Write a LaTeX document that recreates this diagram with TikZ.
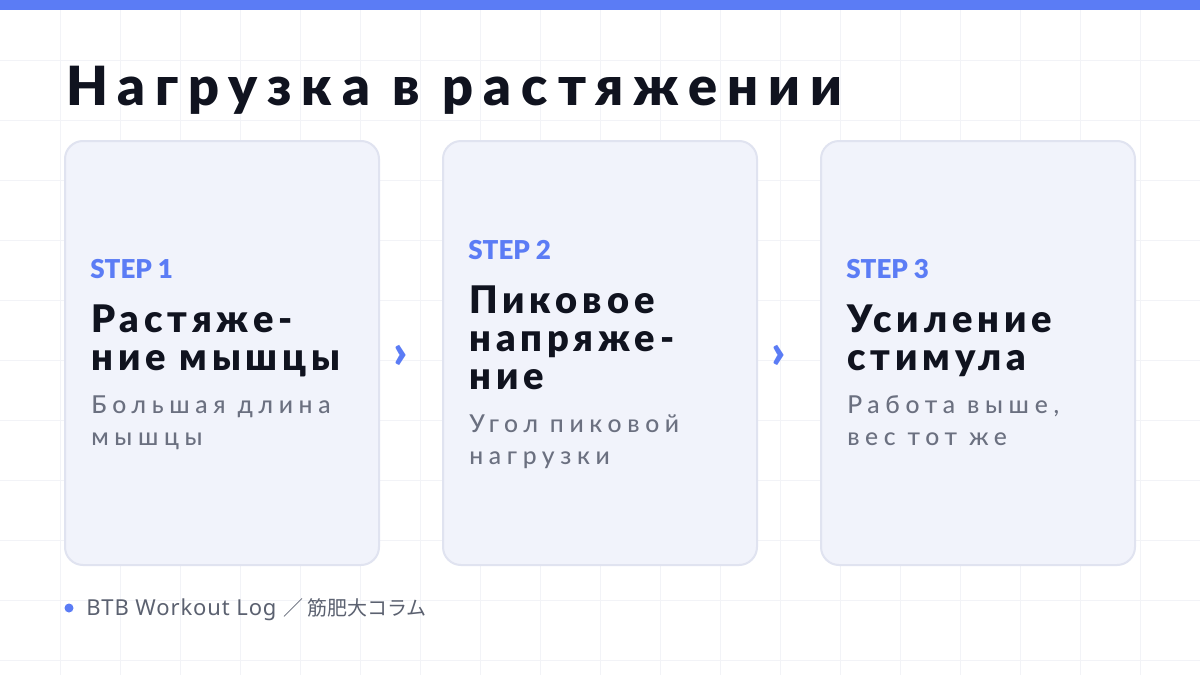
\documentclass[tikz,border=0pt]{standalone}
\usepackage{fontspec}
\usepackage{tikz}
\usetikzlibrary{positioning}
\setmainfont{Lato}
\newfontfamily\titlefont{Lato Black}[LetterSpace=18.5]
\newfontfamily\headfont{Lato Black}[LetterSpace=13]
\newfontfamily\stepfont{Lato Black}
\newfontfamily\notefont{Lato Medium}[LetterSpace=23]
\newfontfamily\footfont{Noto Sans}[LetterSpace=4]
\newfontfamily\cjkfont{Noto Sans CJK JP}

\definecolor{accent}{HTML}{5B7CF5}
\definecolor{ink}{HTML}{10131F}
\definecolor{muted}{HTML}{6B7080}
\definecolor{footgray}{HTML}{5B6170}
\definecolor{cardfill}{HTML}{F1F3FB}
\definecolor{cardedge}{HTML}{E0E3F0}
\definecolor{gridline}{HTML}{F2F3F7}

\begin{document}
\begin{tikzpicture}[x=0.75pt,y=-0.75pt,
  card/.style={draw=cardedge, line width=1.5pt, fill=cardfill, rounded corners=13.5pt,
    minimum width=235.5pt, minimum height=318pt, inner sep=0pt},
  steplabel/.style={text=accent, font=\stepfont\fontsize{19.5pt}{22pt}\selectfont,
    anchor=base west, inner sep=0pt},
  cardtitle/.style={text=ink, font=\headfont\fontsize{28.5pt}{28.5pt}\selectfont,
    align=left, anchor=base west, inner sep=0pt},
  cardnote/.style={text=muted, font=\notefont\fontsize{18.5pt}{24pt}\selectfont,
    align=left, anchor=base west, inner sep=0pt},
  chevron/.style={text=accent, font=\stepfont\fontsize{36pt}{36pt}\selectfont, inner sep=0pt}]
% page and grid
\fill [white] (0,0) rectangle (1200,675);
\useasboundingbox (0,0) rectangle (1200,675);
\foreach \x in {60,120,...,1140}
  \draw [gridline, line width=0.75pt] (\x,10) -- (\x,675);
\foreach \y in {60,120,...,660}
  \draw [gridline, line width=0.75pt] (0,\y) -- (1200,\y);
\fill [accent] (0,0) rectangle (1200,10);
% title
\node [anchor=base west, inner sep=0pt, text=ink, font=\titlefont\fontsize{40.5pt}{40.5pt}\selectfont]
  (title) at (66,105) {Нагрузка в растяжении};
% cards
\node [card] (card1) at (222,353) {};
\node [card] (card2) at (600,353) {};
\node [card] (card3) at (978,353) {};
% step 1 (multi-line nodes sit on their last baseline)
\node [steplabel] (step1) at (90,278) {STEP 1};
\node [cardtitle] (head1) at (91,370) {Растяже-\\ние мышцы};
\node [cardnote] (note1) at (91,445) {Большая длина\\мышцы};
% step 2
\node [steplabel] (step2) at (468,259) {STEP 2};
\node [cardtitle] (head2) at (469,389) {Пиковое\\напряже-\\ние};
\node [cardnote] (note2) at (469,464) {Угол пиковой\\нагрузки};
% step 3
\node [steplabel] (step3) at (846,278) {STEP 3};
\node [cardtitle] (head3) at (847,370) {Усиление\\стимула};
\node [cardnote] (note3) at (847,445) {Работа выше,\\вес тот же};
% arrows between cards
\node [chevron] (arrow1) at (401,357) {›};
\node [chevron] (arrow2) at (779,357) {›};
% footer
\node [circle, fill=accent, minimum size=6.75pt, inner sep=0pt] (dot) at (69,608) {};
\node [anchor=base west, inner sep=0pt, text=footgray, font=\footfont\fontsize{16.5pt}{19pt}\selectfont]
  (footer) at (86,615) {BTB Workout Log {\cjkfont\fontsize{15pt}{19pt}\selectfont ／ 筋肥大コラム}};
\end{tikzpicture}
\end{document}
